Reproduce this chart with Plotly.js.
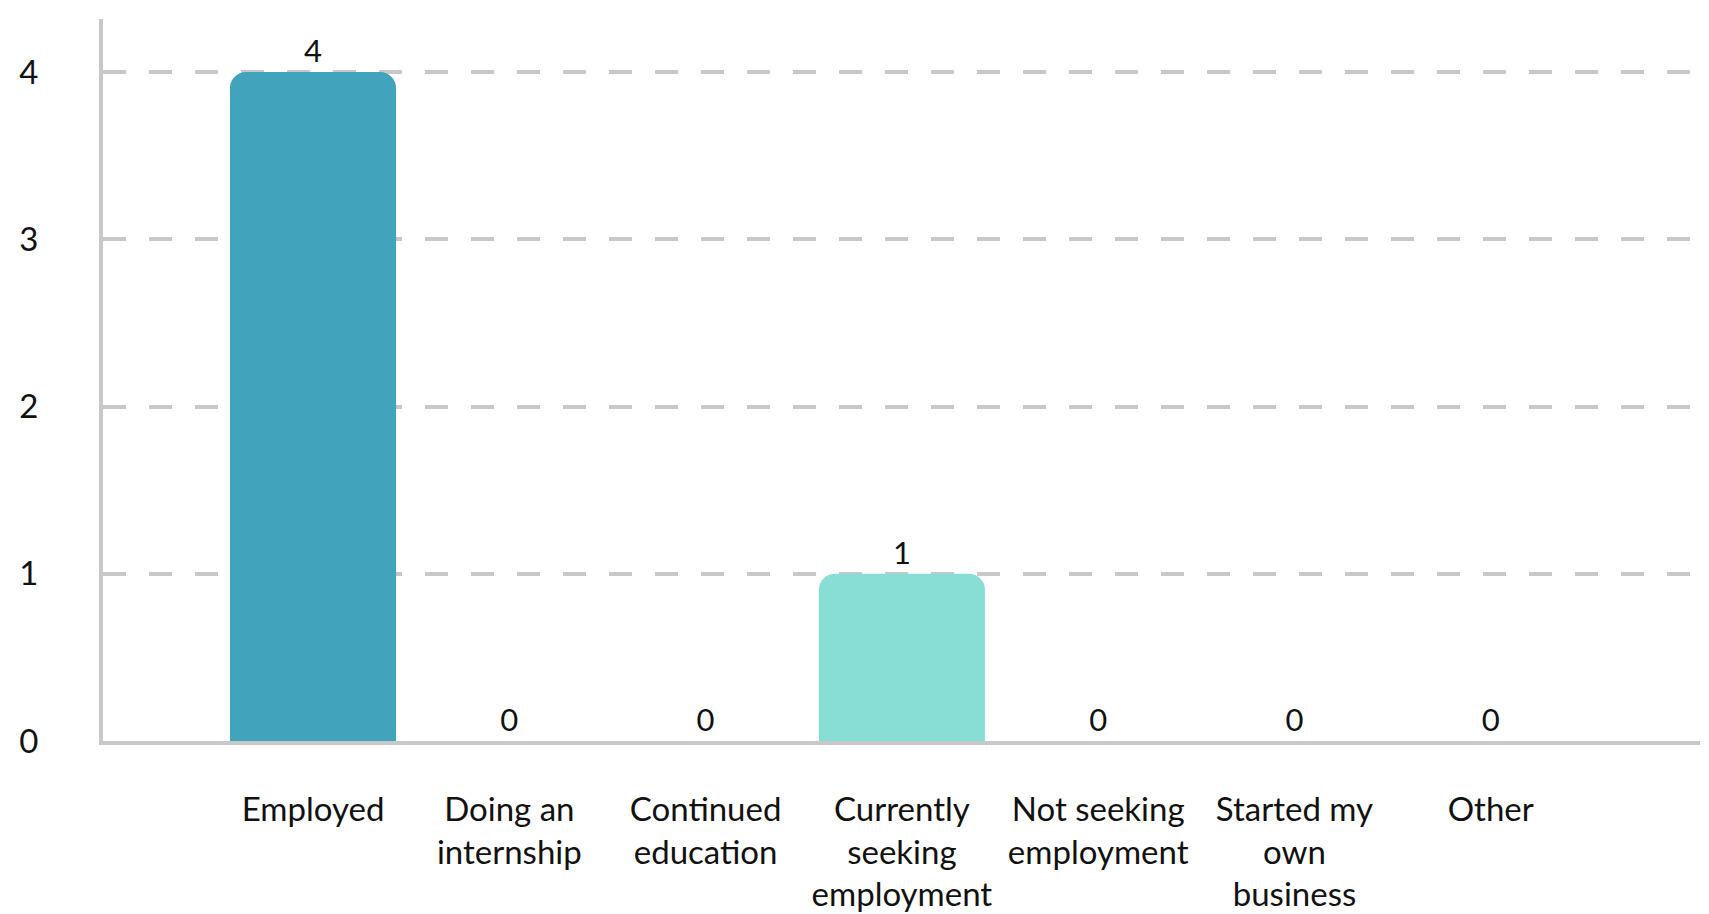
<!DOCTYPE html>
<html>
<head>
<meta charset="utf-8">
<script src="https://cdn.plot.ly/plotly-3.0.1.min.js"></script>
<style>
  html, body { margin: 0; padding: 0; background: #ffffff; }
  #chart { width: 1709px; height: 914px; }
</style>
</head>
<body>
<div id="chart"></div>
<script>
// ---- Data ----
const categories = [
  "Employed",
  "Doing an internship",
  "Continued education",
  "Currently seeking employment",
  "Not seeking employment",
  "Started my own business",
  "Other"
];
const tickLabels = [
  "Employed",
  "Doing an<br>internship",
  "Continued<br>education",
  "Currently<br>seeking<br>employment",
  "Not seeking<br>employment",
  "Started my<br>own<br>business",
  "Other"
];
const counts = [4, 0, 0, 1, 0, 0, 0];
const barColors = ["#41a3bc", "#41a3bc", "#41a3bc", "#88ded5", "#88ded5", "#88ded5", "#88ded5"];
const yTickValues = [0, 1, 2, 3, 4];

// ---- Chart ----
const fontFamily = "Lato, 'Noto Sans', sans-serif";
const trace = {
  type: "bar",
  x: categories,
  y: counts,
  marker: { color: barColors, cornerradius: 16 },
  text: counts.map(String),
  texttemplate: "%{text}",
  textposition: "outside",
  textfont: { family: fontFamily, size: 31, color: "#111111" },
  cliponaxis: false,
  hoverinfo: "x+y"
};

const layout = {
  width: 1709,
  height: 914,
  margin: { l: 103, r: 9, t: 19, b: 173, pad: 0 },
  paper_bgcolor: "#ffffff",
  plot_bgcolor: "#ffffff",
  showlegend: false,
  bargap: 0.154,
  font: { family: fontFamily, size: 33, color: "#111111" },
  xaxis: {
    type: "category",
    range: [-1.07, 7.066],
    tickvals: categories,
    ticktext: tickLabels,
    showline: true,
    linecolor: "#c8c8c8",
    linewidth: 4,
    showgrid: false,
    zeroline: false,
    ticks: "outside",
    ticklen: 36,
    tickcolor: "rgba(0,0,0,0)",
    tickfont: { family: fontFamily, size: 33, color: "#111111" },
    fixedrange: true
  },
  yaxis: {
    range: [0, 4.317],
    tickvals: yTickValues,
    showline: true,
    linecolor: "#c8c8c8",
    linewidth: 4,
    showgrid: true,
    gridcolor: "#c8c8c8",
    gridwidth: 4,
    griddash: "23px,23px",
    zeroline: false,
    ticks: "outside",
    ticklen: 54,
    tickcolor: "rgba(0,0,0,0)",
    tickfont: { family: fontFamily, size: 33, color: "#111111" },
    fixedrange: true
  }
};

Plotly.newPlot("chart", [trace], layout, { displayModeBar: false, staticPlot: true });
</script>
</body>
</html>
